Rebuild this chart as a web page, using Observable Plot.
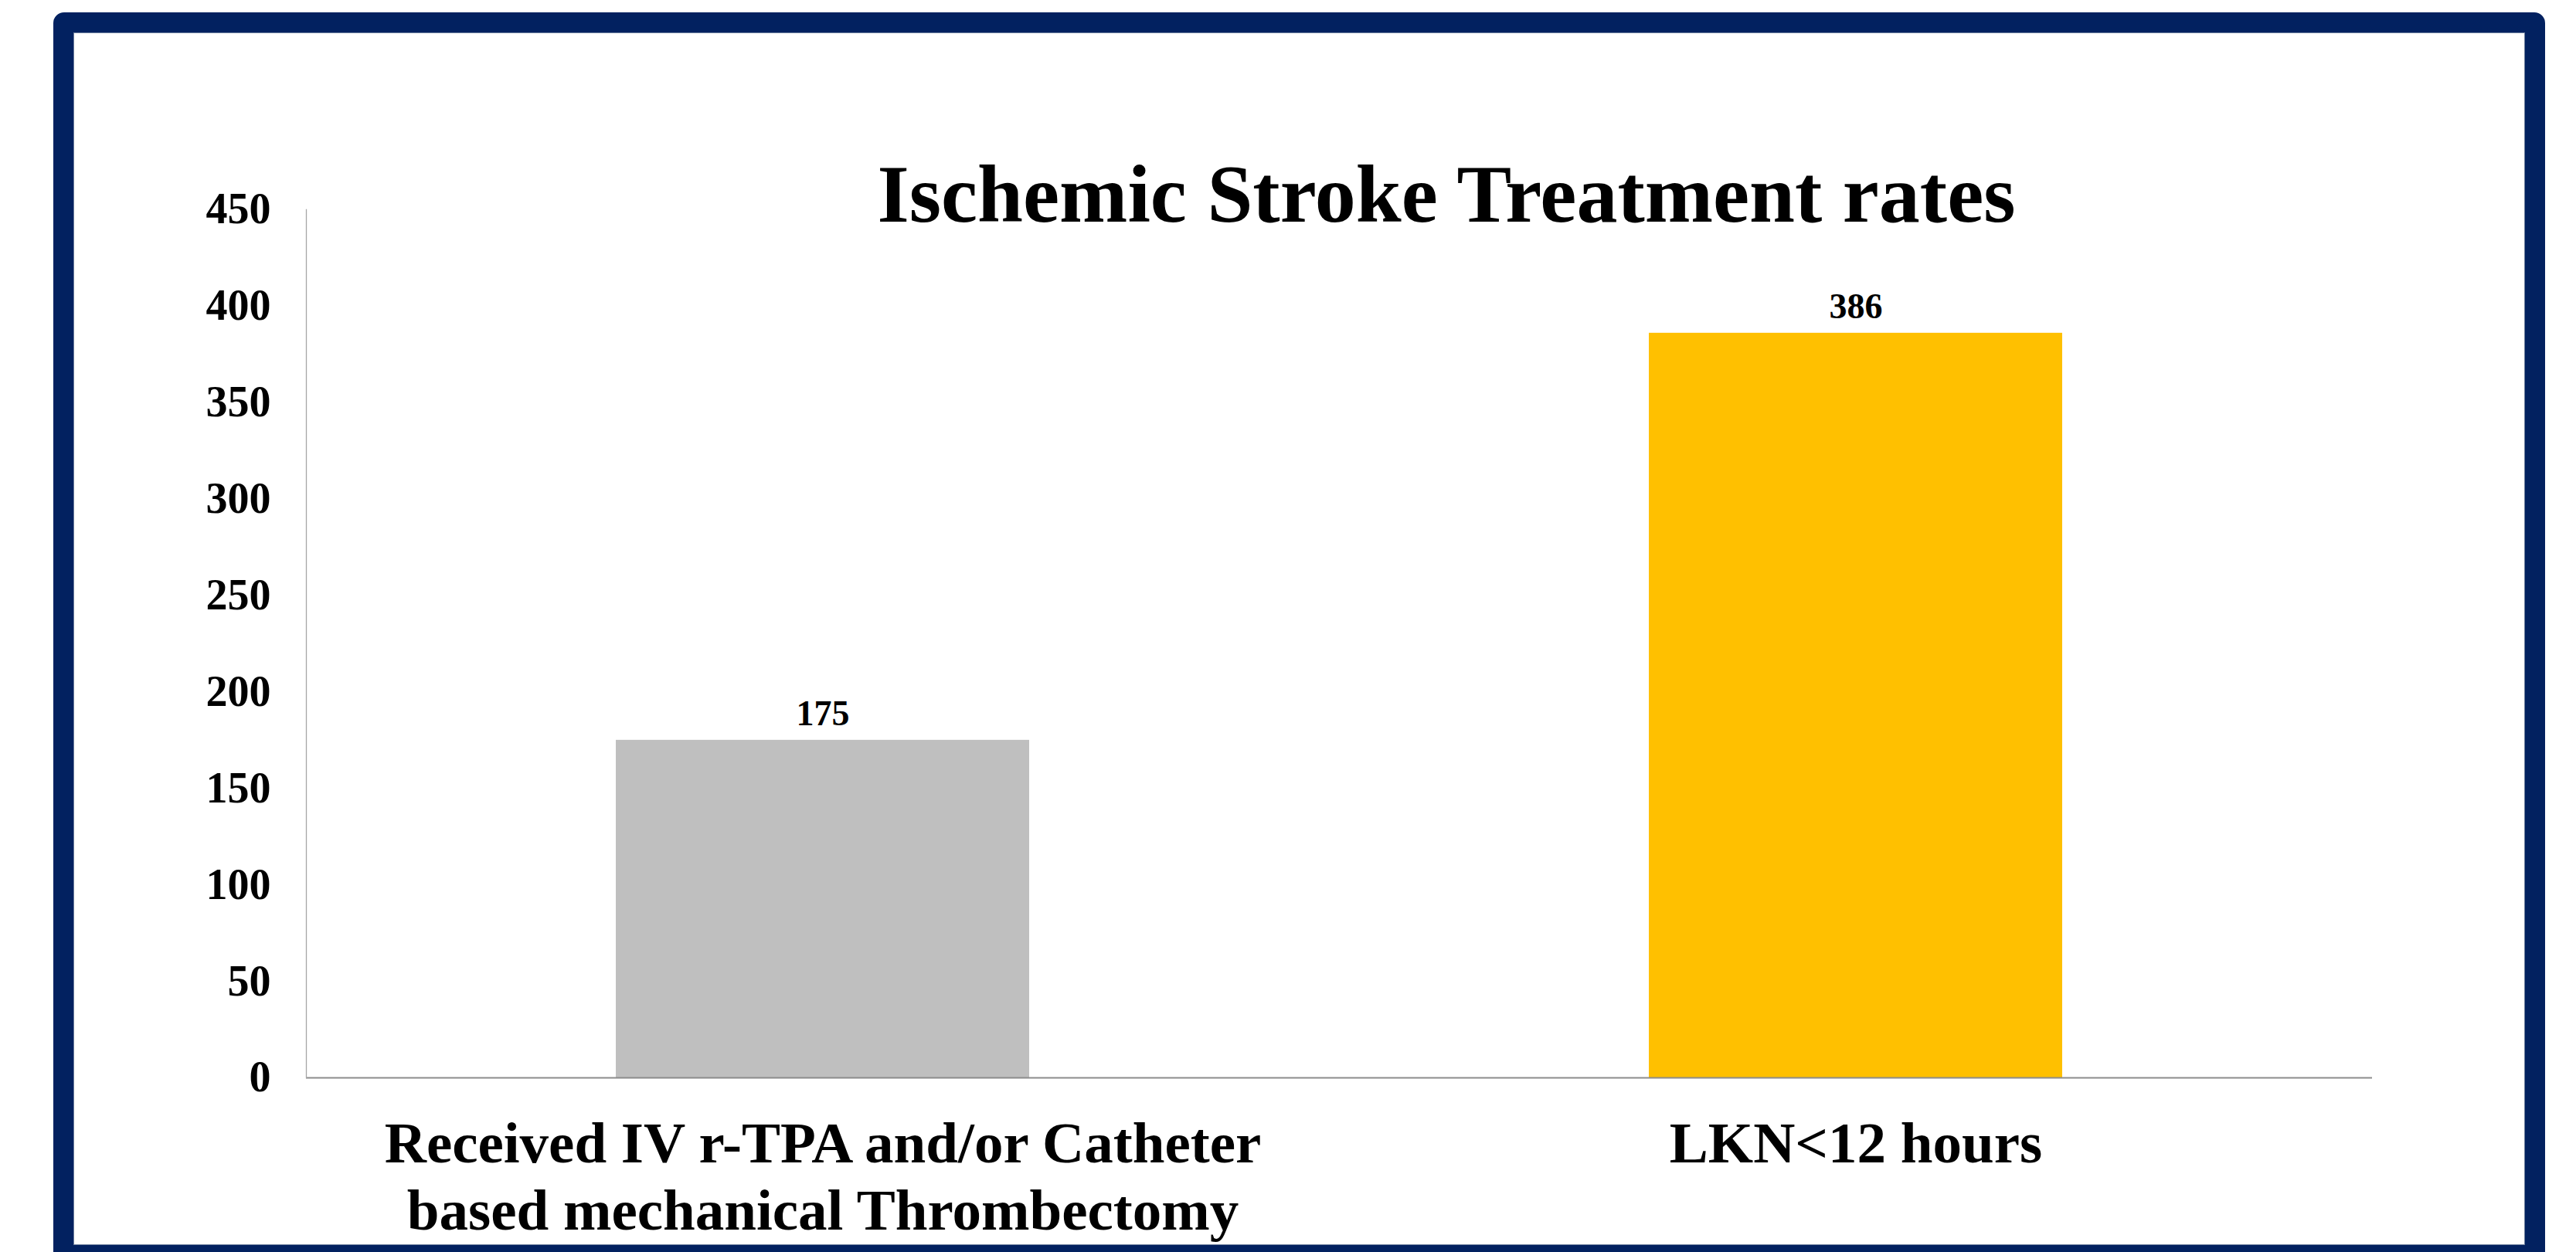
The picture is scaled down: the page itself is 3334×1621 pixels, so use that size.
<!DOCTYPE html>
<html><head><meta charset="utf-8">
<script src="https://cdn.jsdelivr.net/npm/d3@7"></script>
<script src="https://cdn.jsdelivr.net/npm/@observablehq/plot@0.6"></script>
<style>
html,body{margin:0;padding:0;background:#fff;width:3334px;height:1621px;overflow:hidden;}
#frame{position:absolute;left:69px;top:16px;width:3225px;height:1622px;box-sizing:border-box;border:26px solid #022160;border-radius:14px;box-shadow:inset 0 0 0 1px #6f809e;}
#title{position:absolute;left:1872px;top:199px;transform:translateX(-50%);font-family:"Liberation Serif","Times New Roman",serif;font-weight:bold;font-size:106px;line-height:106px;white-space:nowrap;color:#000;}
#chart{position:absolute;left:95px;top:42px;}
</style></head>
<body>
<div id="frame"></div>
<div id="chart"></div>
<div id="title">Ischemic Stroke Treatment rates</div>
<script>
const categories = ["Received IV r-TPA and/or Catheter based mechanical Thrombectomy", "LKN<12 hours"];
const tickLabels = ["Received IV r-TPA and/or Catheter\nbased mechanical Thrombectomy", "LKN<12 hours"];
const values = [175, 386];
const colors = ["#BFBFBF", "#FFC000"];
const yTicks = [0, 50, 100, 150, 200, 250, 300, 350, 400, 450];

const data = categories.map((c, i) => ({category: c, value: values[i]}));
const font = "'Liberation Serif','Times New Roman',serif";

const plot = Plot.plot({
  width: 3173, height: 1570,
  marginLeft: 301, marginRight: 198, marginTop: 229, marginBottom: 217,
  style: {fontFamily: font, fontWeight: "bold", background: "transparent", color: "#000", overflow: "visible"},
  x: {domain: categories, paddingInner: 0.6, paddingOuter: 0.3, label: null},
  y: {domain: [0, 450], label: null},
  color: {domain: categories, range: colors},
  marks: [
    Plot.barY(data, {x: "category", y: "value", fill: "category"}),
    Plot.ruleY([0], {stroke: "#8c8c8c", strokeWidth: 2}),
    Plot.frame({anchor: "left", stroke: "#a6a6a6", strokeWidth: 1.3}),
    Plot.text(data, {x: "category", y: "value", text: d => String(d.value), lineAnchor: "bottom", dy: -19, fontSize: 46, fontWeight: "bold", fill: "#000"}),
    Plot.axisY({ticks: yTicks, tickSize: 0, tickPadding: 46, fontSize: 56, fontWeight: "bold", label: null, tickFormat: d => String(d)}),
    Plot.axisX({tickSize: 0, tickPadding: 48, fontSize: 75, fontWeight: "bold", lineHeight: 1.16, label: null, tickFormat: d => tickLabels[categories.indexOf(d)]})
  ]
});
document.getElementById("chart").appendChild(plot);
</script>
</body></html>
